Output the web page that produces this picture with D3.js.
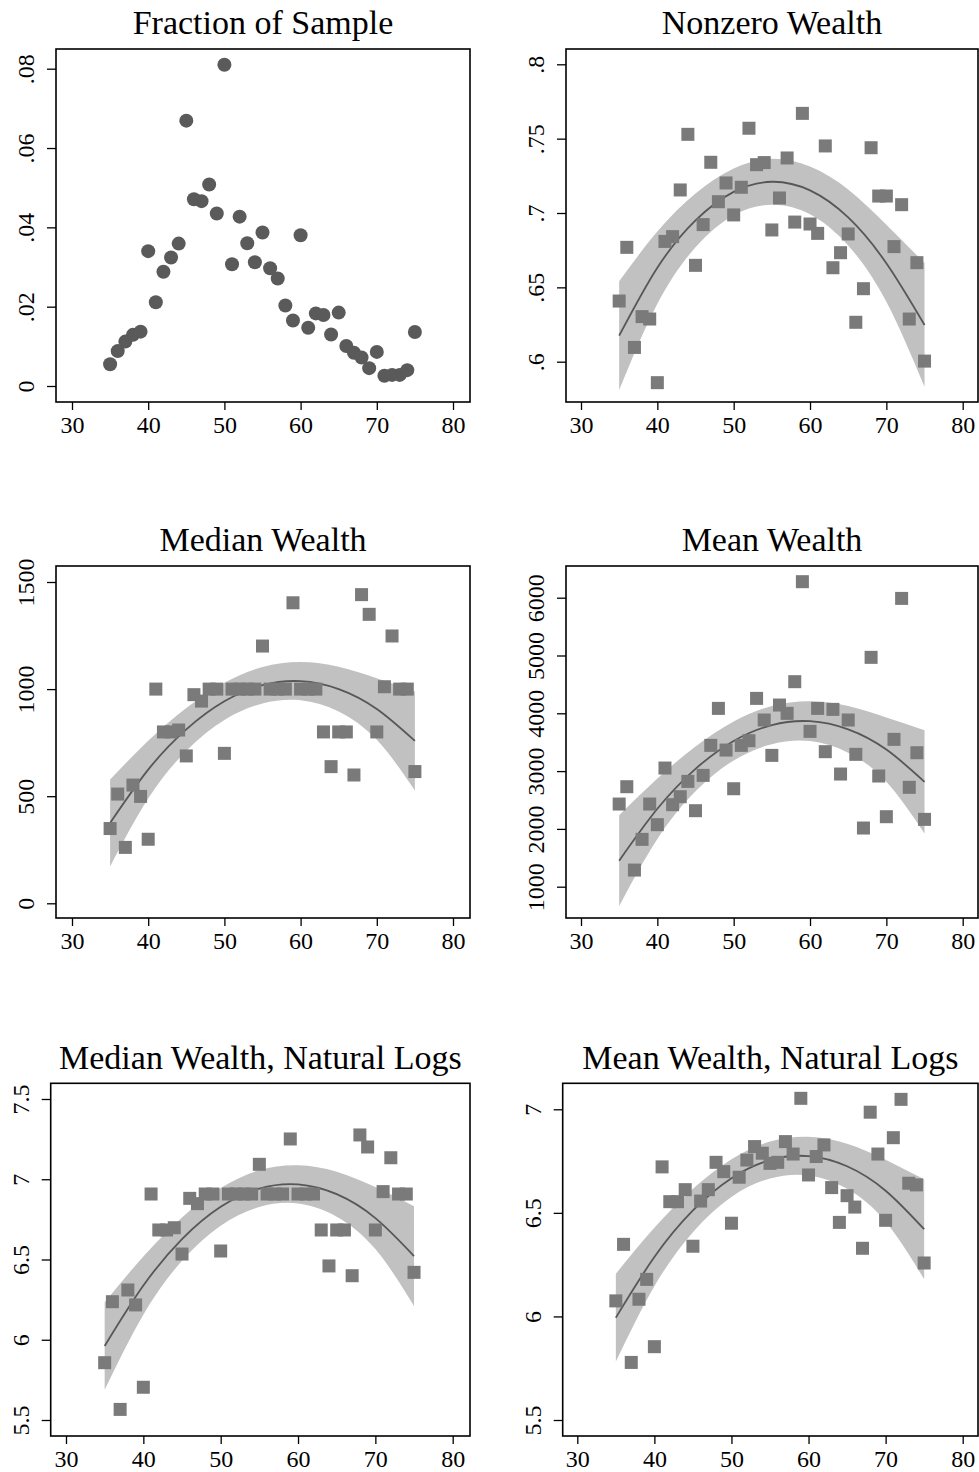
<!DOCTYPE html>
<html><head><meta charset="utf-8">
<script src="https://cdn.jsdelivr.net/npm/d3@7"></script>
<style>
body{margin:0;background:#fff;}
svg text{font-family:"Liberation Serif","Times New Roman",Times,serif;fill:#000;}
</style></head><body>
<svg id="c" width="979" height="1472"></svg>
<script>
// ---------- data ----------
const ages = [35,36,37,38,39,40,41,42,43,44,45,46,47,48,49,50,51,52,53,54,55,56,57,58,59,60,61,62,63,64,65,66,67,68,69,70,71,72,73,74,75];
const fractionOfSample = [0.0055,0.0088,0.0112,0.0129,0.0137,0.034,0.0211,0.0288,0.0324,0.0359,
  0.0669,0.0471,0.0466,0.0508,0.0435,0.081,0.0307,0.0427,0.036,0.0312,
  0.0387,0.0297,0.0271,0.0203,0.0165,0.038,0.0147,0.0183,0.0179,0.013,
  0.0185,0.0101,0.0084,0.0072,0.0045,0.0086,0.0026,0.0028,0.0028,0.004,0.0136];
const nonzeroWealth = [0.6408,0.6769,0.6096,0.6303,0.6287,0.5859,0.6809,0.6841,0.7155,0.7529,
  0.6648,0.6922,0.7341,0.7076,0.7202,0.6987,0.7173,0.757,0.7325,0.7339,
  0.6886,0.7101,0.737,0.6939,0.767,0.6926,0.6863,0.7451,0.6632,0.6733,
  0.6859,0.6265,0.6491,0.7439,0.7114,0.7114,0.6774,0.7056,0.6287,0.6666,0.6004];
const medianWealth = [349,510,261,552,499,299,1000,800,800,809,
  688,974,944,1000,1000,700,1000,1000,1000,1000,
  1201,1000,1000,1000,1403,1000,1000,1000,800,638,
  800,800,599,1441,1349,800,1011,1248,1000,1000,615];
const meanWealth = [2430,2730,1288,1819,2430,2073,3053,2419,2557,2822,
  2315,2926,3445,4085,3364,2695,3445,3526,4258,3884,
  3272,4143,3999,4547,6277,3687,4085,3336,4068,2949,
  3884,3290,2015,4968,2915,2211,3549,5988,2719,3318,2165];
const lnMedianWealth = [5.857,6.237,5.566,6.31,6.217,5.704,6.908,6.684,6.684,6.698,
  6.534,6.881,6.848,6.908,6.908,6.553,6.908,6.908,6.908,6.908,
  7.093,6.908,6.908,6.908,7.251,6.908,6.908,6.908,6.684,6.46,
  6.684,6.684,6.399,7.276,7.201,6.684,6.923,7.134,6.908,6.908,6.42];
const lnMeanWealth = [6.075,6.348,5.778,6.083,6.179,5.854,6.722,6.554,6.554,6.612,
  6.339,6.557,6.612,6.744,6.699,6.45,6.672,6.755,6.82,6.788,
  6.739,6.744,6.844,6.784,7.053,6.683,6.772,6.828,6.622,6.454,
  6.583,6.528,6.329,6.986,6.784,6.464,6.863,7.048,6.643,6.635,6.258];

// quadratic fit and 95% band
const fitAges = [35,40,45,50,55,60,65,70,75];
const nonzeroFit = [0.6175,0.6632,0.695,0.7142,0.721,0.7152,0.697,0.6662,0.6247];
const nonzeroLo  = [0.5809,0.6389,0.6769,0.6985,0.7056,0.6992,0.6782,0.6403,0.5831];
const nonzeroHi  = [0.6541,0.6875,0.7131,0.7299,0.7364,0.7312,0.7158,0.6921,0.6663];
const medianFit = [375,624,812,943,1018,1037,1000,907,758];
const medianLo  = [172,489,712,856,933,948,896,763,527];
const medianHi  = [578,759,912,1030,1103,1126,1104,1051,989];
const meanFit = [1450,2348,3039,3522,3796,3863,3721,3372,2814];
const meanLo  = [665,1826,2651,3185,3466,3519,3317,2816,1921];
const meanHi  = [2235,2870,3427,3859,4126,4207,4125,3928,3707];
const lnMedianFit = [5.961,6.3375,6.627,6.828,6.942,6.968,6.907,6.758,6.5215];
const lnMedianLo  = [5.688,6.156,6.492,6.711,6.827,6.849,6.767,6.565,6.211];
const lnMedianHi  = [6.234,6.519,6.762,6.945,7.057,7.087,7.047,6.951,6.832];
const lnMeanFit = [5.994,6.287,6.5115,6.6676,6.755,6.774,6.725,6.607,6.421];
const lnMeanLo  = [5.782,6.146,6.407,6.577,6.666,6.681,6.616,6.457,6.180];
const lnMeanHi  = [6.206,6.428,6.616,6.759,6.844,6.867,6.834,6.757,6.662];

const xTicks = [30,40,50,60,70,80];
const fracTicks = [0,0.02,0.04,0.06,0.08];
const fracTickLabels = ["0",".02",".04",".06",".08"];
const nonzeroTicks = [0.6,0.65,0.7,0.75,0.8];
const nonzeroTickLabels = [".6",".65",".7",".75",".8"];
const medianTicks = [0,500,1000,1500];
const meanTicks = [1000,2000,3000,4000,5000,6000];
const lnMedianTicks = [5.5,6,6.5,7,7.5];
const lnMeanTicks = [5.5,6,6.5,7];

// ---------- layout ----------
const panels = [
  {title:"Fraction of Sample", values:fractionOfSample, marker:"circle",
   frame:[56,49,470,402], xr:[72,453], yd:[0,0.08], yr:[386,68.7],
   ticks:fracTicks, labels:fracTickLabels},
  {title:"Nonzero Wealth", values:nonzeroWealth, marker:"square",
   fit:nonzeroFit, lo:nonzeroLo, hi:nonzeroHi,
   frame:[566,49,978,402], xr:[581,962.7], yd:[0.6,0.8], yr:[361.7,64.3],
   ticks:nonzeroTicks, labels:nonzeroTickLabels},
  {title:"Median Wealth", values:medianWealth, marker:"square",
   fit:medianFit, lo:medianLo, hi:medianHi,
   frame:[56,566,470,918], xr:[72,453], yd:[0,1500], yr:[903.3,582],
   ticks:medianTicks, labels:medianTicks.map(String)},
  {title:"Mean Wealth", values:meanWealth, marker:"square",
   fit:meanFit, lo:meanLo, hi:meanHi,
   frame:[566,566,978,918], xr:[581,962.7], yd:[1000,6000], yr:[886.7,597.7],
   ticks:meanTicks, labels:meanTicks.map(String)},
  {title:"Median Wealth, Natural Logs", values:lnMedianWealth, marker:"square",
   fit:lnMedianFit, lo:lnMedianLo, hi:lnMedianHi,
   frame:[50.7,1083.3,470,1436], xr:[66,452.7], yd:[5.5,7.5], yr:[1420,1099],
   ticks:lnMedianTicks, labels:lnMedianTicks.map(String)},
  {title:"Mean Wealth, Natural Logs", values:lnMeanWealth, marker:"square",
   fit:lnMeanFit, lo:lnMeanLo, hi:lnMeanHi,
   frame:[562.7,1083.3,978,1436], xr:[577.3,962.7], yd:[5.5,7], yr:[1420,1109.3],
   ticks:lnMeanTicks, labels:lnMeanTicks.map(String)}
];

const svg = d3.select("#c");
svg.append("rect").attr("width",979).attr("height",1472).attr("fill","#fff");
const FONT = '"Liberation Serif","Times New Roman",serif';

panels.forEach(p => {
  const [fx0, fy0, fx1, fy1] = p.frame;
  const x = d3.scaleLinear().domain([30,80]).range(p.xr);
  const y = d3.scaleLinear().domain(p.yd).range(p.yr);
  const g = svg.append("g");

  // CI band + fit line
  if (p.fit) {
    const pts = fitAges.map((a,i) => ({a, f:p.fit[i], lo:p.lo[i], hi:p.hi[i]}));
    g.append("path").datum(pts)
      .attr("d", d3.area().curve(d3.curveNatural)
        .x(d => x(d.a)).y0(d => y(d.lo)).y1(d => y(d.hi)))
      .attr("fill","#c1c1c1").attr("stroke","none");
    g.append("path").datum(pts)
      .attr("d", d3.line().curve(d3.curveNatural).x(d => x(d.a)).y(d => y(d.f)))
      .attr("fill","none").attr("stroke","#575757").attr("stroke-width",1.8);
  }

  // markers
  const data = ages.map((a,i) => ({a, v:p.values[i]}));
  if (p.marker === "circle") {
    g.selectAll("circle.pt").data(data).join("circle")
      .attr("class","pt")
      .attr("cx", d => x(d.a)).attr("cy", d => y(d.v)).attr("r", 7)
      .attr("fill","#5a5a5a");
  } else {
    const s = 13;
    g.selectAll("rect.pt").data(data).join("rect")
      .attr("class","pt")
      .attr("x", d => x(d.a) - s/2).attr("y", d => y(d.v) - s/2)
      .attr("width", s).attr("height", s)
      .attr("fill","#7a7a7a");
  }

  // x axis
  const xa = g.append("g").attr("transform",`translate(0,${fy1})`)
    .call(d3.axisBottom(x).tickValues(xTicks).tickSize(8).tickPadding(6).tickFormat(d3.format("d")));
  xa.select(".domain").remove();
  xa.selectAll("line").attr("stroke","#000").attr("stroke-width",1.3);
  xa.selectAll("text").attr("font-size",24).attr("fill","#000").style("font-family",FONT);

  // y axis with rotated labels
  const ya = g.append("g").attr("transform",`translate(${fx0},0)`)
    .call(d3.axisLeft(y).tickValues(p.ticks).tickSize(9)
      .tickFormat((d,i) => p.labels[i]));
  ya.select(".domain").remove();
  ya.selectAll("line").attr("stroke","#000").attr("stroke-width",1.3);
  ya.selectAll("text")
    .attr("x", null).attr("dy", null).attr("dx", null)
    .attr("text-anchor","middle")
    .attr("transform","translate(-22,0) rotate(-90)")
    .attr("font-size",24).attr("fill","#000").style("font-family",FONT);

  // frame
  g.append("rect").attr("x",fx0).attr("y",fy0)
    .attr("width",fx1-fx0).attr("height",fy1-fy0)
    .attr("fill","none").attr("stroke","#000").attr("stroke-width",1.6);

  // title
  g.append("text").attr("x",(fx0+fx1)/2).attr("y",fy0-14.7)
    .attr("text-anchor","middle").attr("font-size",34).style("font-family",FONT).text(p.title);
});
</script>
</body></html>
